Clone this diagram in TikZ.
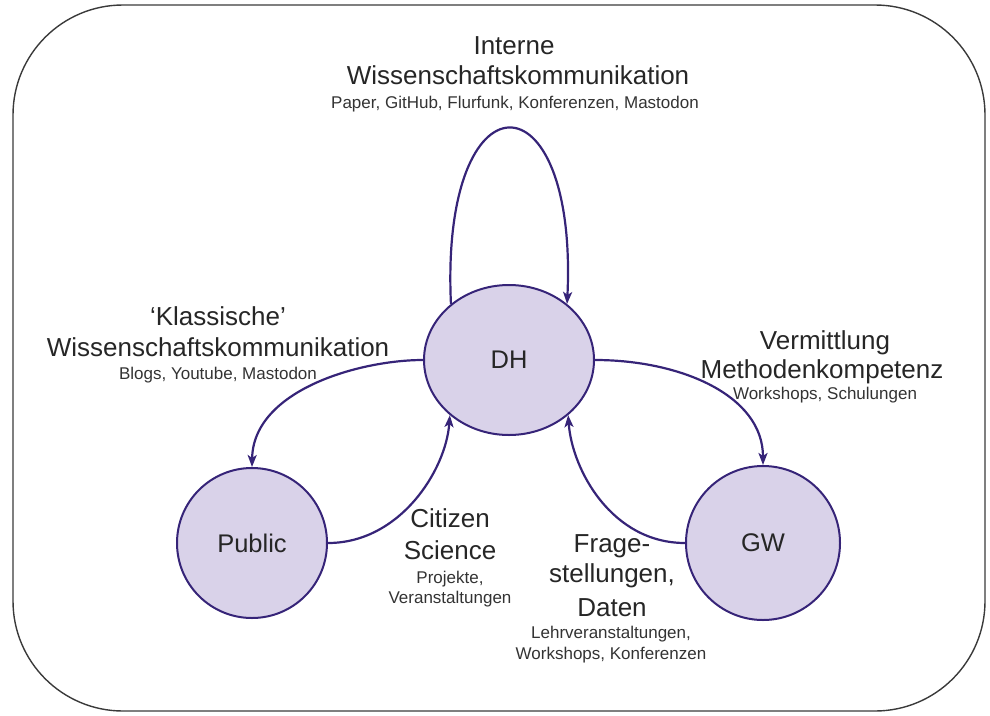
\documentclass[tikz,border=0pt]{standalone}
\usepackage{fontspec}
\setmainfont{Liberation Sans}
\usetikzlibrary{arrows.meta,shapes.geometric}
\definecolor{edgec}{HTML}{362478}
\definecolor{fillc}{HTML}{D9D2E9}
\definecolor{framec}{HTML}{3A3A3A}
\begin{document}
\begin{tikzpicture}[x=1pt,y=-1pt,
  ent/.style={draw=edgec, fill=fillc, line width=2pt, inner sep=0pt, font=\fontsize{25.5}{30}\selectfont, text=black!85},
  flow/.style={draw=edgec, line width=2.2pt, -{Stealth[length=12pt,width=9pt,inset=3pt]}},
  big/.style={font=\fontsize{26}{30}\selectfont, anchor=base, inner sep=0pt, text=black!85},
  small/.style={font=\fontsize{17}{20}\selectfont, anchor=base, inner sep=0pt, text=black!80}
]
\useasboundingbox (0,0) rectangle (990,715);
\draw[framec, line width=1.4pt, rounded corners=110pt] (13,5) rectangle (985,711);

\node[ent, ellipse, minimum width=170pt, minimum height=150pt] (dh) at (509,360) {DH};
\node[ent, circle, minimum size=150pt] (pub) at (252,543) {Public};
\node[ent, circle, minimum size=154pt] (gw) at (763,543) {GW};

\draw[flow] (dh.136) .. controls (440,70) and (578,70) .. (dh.44);
\draw[flow] (dh.west) .. controls (360,360) and (253,390) .. (pub.north);
\draw[flow] (pub.east) .. controls (400,543) and (446,470) .. (dh.223);
\draw[flow] (dh.east) .. controls (680,360) and (763,395) .. (gw.north);
\draw[flow] (gw.west) .. controls (612,543) and (572,470) .. (dh.317);

% top label
\node[big] (t1) at (514,54) {Interne};
\node[big] (t2) at (518,84) {Wissenschaftskommunikation};
\node[small] (t3) at (515,108) {Paper, GitHub, Flurfunk, Konferenzen, Mastodon};
% left label
\node[big] (k1) at (218,325) {`Klassische'};
\node[big] (k2) at (218,356) {Wissenschaftskommunikation};
\node[small] (k3) at (218,379) {Blogs, Youtube, Mastodon};
% right label
\node[big] (v1) at (825,349) {Vermittlung};
\node[big] (v2) at (822,378) {Methodenkompetenz};
\node[small] (v3) at (825,399) {Workshops, Schulungen};
% citizen science
\node[big] (c1) at (450,527) {Citizen};
\node[big] (c2) at (450,559) {Science};
\node[small] (c3) at (450,583) {Projekte,};
\node[small] (c4) at (450,603) {Veranstaltungen};
% fragestellungen
\node[big] (f1) at (612,552) {Frage-};
\node[big] (f2) at (612,582) {stellungen,};
\node[big] (f3) at (612,616) {Daten};
\node[small] (f4) at (611,638) {Lehrveranstaltungen,};
\node[small] (f5) at (611,659) {Workshops, Konferenzen};
\end{tikzpicture}
\end{document}
